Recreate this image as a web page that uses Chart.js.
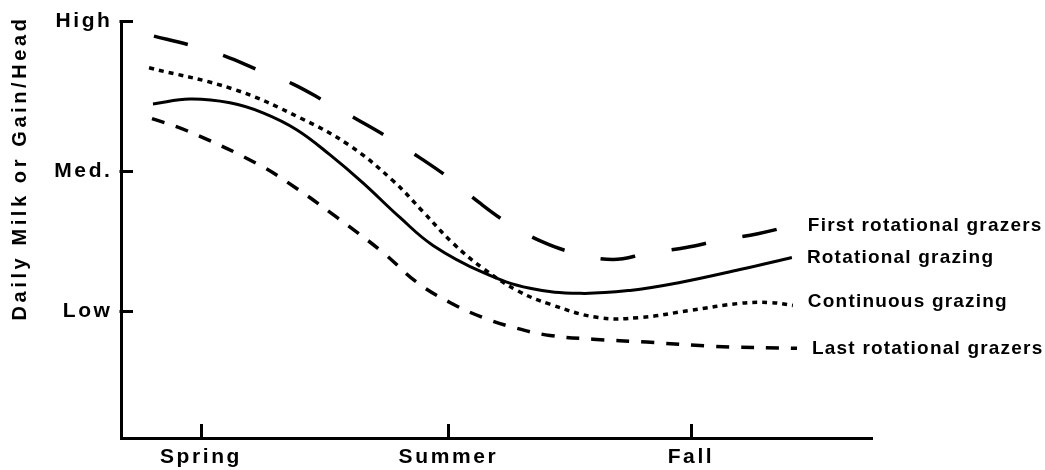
<!DOCTYPE html>
<html>
<head>
<meta charset="utf-8">
<script src="https://cdn.jsdelivr.net/npm/chart.js@4.4.1/dist/chart.umd.min.js"></script>
<style>
html,body{margin:0;padding:0;background:#fff;}
#wrap{width:1045px;height:470px;}
</style>
</head>
<body>
<div id="wrap"><canvas id="c" width="1045" height="470"></canvas></div>
<script>
// ---- data ----
const seasons = ['Spring', 'Summer', 'Fall'];
const seasonPos = [0, 1.01, 2];
const levels = ['Low', 'Med.', 'High'];
const levelPos = [30.4, 64.1, 100];
const yTitle = 'Daily Milk or Gain/Head';

const seriesNames = ['First rotational grazers', 'Rotational grazing', 'Continuous grazing', 'Last rotational grazers'];

const firstX = [-0.192, -0.049, 0.098, 0.233, 0.376, 0.510, 0.641, 0.767, 0.894, 1.016, 1.135, 1.257, 1.392, 1.531, 1.682, 1.824, 1.980, 2.118, 2.273, 2.416];
const firstY = [96.4, 94.3, 91.6, 88.3, 84.9, 80.6, 76.3, 72.0, 67.2, 62.2, 56.5, 51.4, 47.1, 44.3, 42.8, 44.3, 45.7, 47.4, 49.0, 51.0];

const rotX = [-0.196, -0.045, 0.118, 0.253, 0.392, 0.527, 0.661, 0.812, 0.947, 1.151, 1.343, 1.547, 1.751, 1.955, 2.200, 2.412];
const rotY = [80.1, 81.3, 80.4, 78.0, 73.9, 67.9, 61.2, 52.9, 46.2, 39.7, 35.9, 34.7, 35.4, 37.3, 40.4, 43.3];

const contX = [-0.212, 0.131, 0.404, 0.608, 0.784, 0.906, 1.029, 1.151, 1.290, 1.424, 1.620, 1.792, 1.996, 2.200, 2.322, 2.416];
const contY = [88.8, 83.7, 76.8, 70.1, 61.7, 54.3, 46.7, 40.7, 35.4, 32.1, 28.9, 28.9, 30.6, 32.3, 32.5, 31.8];

const lastX = [-0.200, -0.057, 0.229, 0.392, 0.555, 0.743, 0.882, 1.016, 1.151, 1.290, 1.424, 1.600, 1.820, 2.090, 2.433];
const lastY = [76.6, 73.7, 65.8, 59.8, 52.9, 44.5, 37.3, 32.5, 28.9, 26.3, 24.6, 23.7, 23.0, 22.0, 21.5];

// ---- build ----
const toPts = (xs, ys) => xs.map((x, i) => ({x: x, y: ys[i]}));
const FONT = '"Liberation Sans", Arial, Helvetica, sans-serif';

const styles = [
  {dash: [35, 37], width: 3.5, dy: 0},
  {dash: [], width: 3, dy: 0},
  {dash: [5, 5], width: 3.5, dy: -4},
  {dash: [13, 12], width: 3.5, dy: 0}
];
const allData = [toPts(firstX, firstY), toPts(rotX, rotY), toPts(contX, contY), toPts(lastX, lastY)];

const datasets = allData.map((d, i) => ({
  label: seriesNames[i],
  data: d,
  borderColor: '#000',
  borderWidth: styles[i].width,
  borderDash: styles[i].dash,
  borderCapStyle: 'butt',
  pointRadius: 0,
  fill: false,
  tension: 0.4
}));

const deco = {
  id: 'deco',
  beforeDraw(chart) {
    chart.ctx.letterSpacing = '2.6px';
  },
  afterDraw(chart) {
    const ctx = chart.ctx;
    const xs = chart.scales.x, ys = chart.scales.y;
    ctx.save();
    ctx.letterSpacing = '0px';
    ctx.strokeStyle = '#000';
    ctx.lineWidth = 3;
    ctx.setLineDash([]);
    ctx.lineCap = 'butt';
    // inward ticks
    ys.ticks.forEach(t => {
      const py = Math.round(ys.getPixelForValue(t.value)) + 0.5;
      ctx.beginPath();
      ctx.moveTo(xs.left - 1.5, py);
      ctx.lineTo(xs.left + 12, py);
      ctx.stroke();
    });
    xs.ticks.forEach(t => {
      const px = Math.round(xs.getPixelForValue(t.value)) + 0.5;
      ctx.beginPath();
      ctx.moveTo(px, ys.bottom);
      ctx.lineTo(px, ys.bottom - 14);
      ctx.stroke();
    });
    // end-of-line labels
    ctx.fillStyle = '#000';
    ctx.font = 'bold 19px ' + FONT;
    ctx.letterSpacing = '1.2px';
    ctx.textAlign = 'left';
    ctx.textBaseline = 'middle';
    chart.data.datasets.forEach((ds, i) => {
      const p = ds.data[ds.data.length - 1];
      const px = xs.getPixelForValue(p.x);
      const py = ys.getPixelForValue(p.y);
      ctx.fillText(ds.label, px + 15, py + styles[i].dy);
    });
    // y axis title
    ctx.font = 'bold 20px ' + FONT;
    ctx.letterSpacing = '3.6px';
    ctx.translate(20, 168);
    ctx.rotate(-Math.PI / 2);
    ctx.textAlign = 'center';
    ctx.fillText(yTitle, 0, 0);
    ctx.restore();
  }
};

new Chart(document.getElementById('c'), {
  type: 'line',
  data: {datasets: datasets},
  options: {
    responsive: false,
    animation: false,
    events: [],
    layout: {padding: {top: 20, right: 173, left: 0, bottom: 0}},
    plugins: {legend: {display: false}, tooltip: {enabled: false}, title: {display: false}},
    scales: {
      x: {
        type: 'linear',
        min: -0.3265,
        max: 2.739,
        afterFit(s) { s.height = 32; },
        afterBuildTicks(s) { s.ticks = seasonPos.map(v => ({value: v})); },
        grid: {drawOnChartArea: false, drawTicks: false},
        border: {display: true, width: 3, color: '#000'},
        ticks: {
          padding: 7,
          color: '#000',
          font: {family: FONT, size: 21, weight: 'bold'},
          autoSkip: false,
          maxRotation: 0,
          callback: (v, i) => seasons[i]
        }
      },
      y: {
        type: 'linear',
        min: 0,
        max: 100,
        afterFit(s) { s.width = 121; },
        afterBuildTicks(s) { s.ticks = levelPos.map(v => ({value: v})); },
        grid: {drawOnChartArea: false, drawTicks: false},
        border: {display: true, width: 3, color: '#000'},
        ticks: {
          padding: 8.5,
          color: '#000',
          font: {family: FONT, size: 21, weight: 'bold'},
          autoSkip: false,
          callback: (v, i) => levels[i]
        }
      }
    }
  },
  plugins: [deco]
});
</script>
</body>
</html>
